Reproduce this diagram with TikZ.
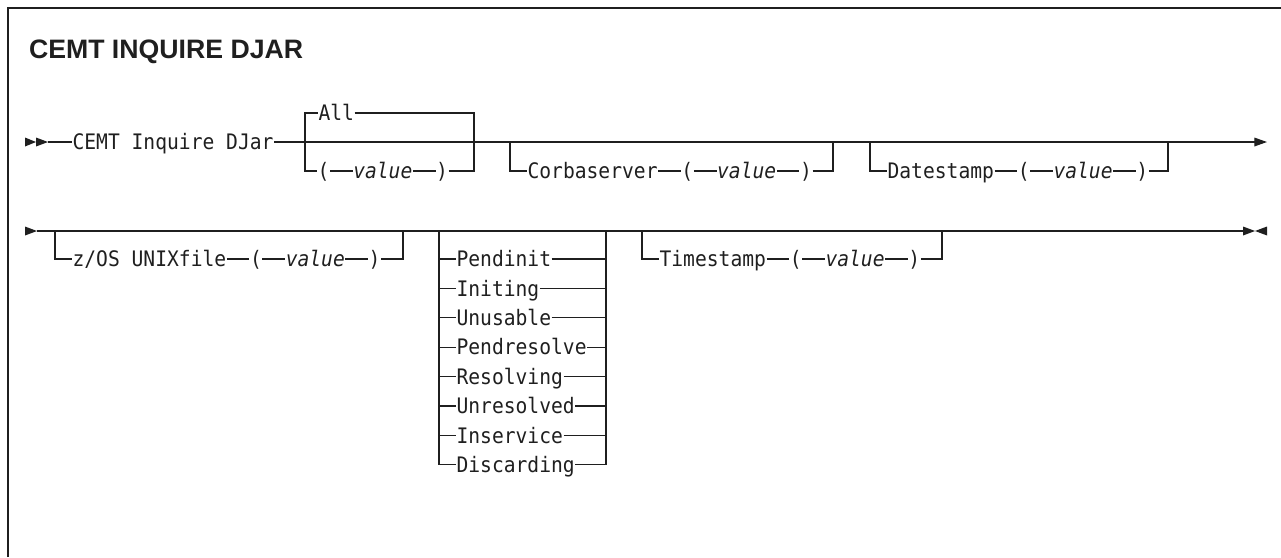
\documentclass[tikz,border=0pt]{standalone}
\usepackage{fontspec}
\setmainfont{Liberation Sans}
\newfontfamily\synfont[FakeStretch=0.92]{DejaVu Sans Mono}
\usetikzlibrary{positioning,arrows.meta}
\begin{document}
\begin{tikzpicture}[x=0.75pt, y=-0.75pt, line width=0.9pt, color=black!88,
  kw/.style={font=\synfont\fontsize{16}{18}\selectfont, inner sep=0pt,
    text height=11.6pt, text depth=0pt},
  var/.style={kw, font=\synfont\itshape\fontsize{16}{18}\selectfont},
  node distance=17pt]
\useasboundingbox (0,0) rectangle (1281,557);
\draw[line width=1.5pt] (8,557) -- (8,8) -- (1281,8);
\node[anchor=base west, font=\bfseries\fontsize{20}{24}\selectfont] (title) at (24,58) {CEMT INQUIRE DJAR};

% first line
\fill (25,137.5) -- (36,142) -- (25,146.5) -- cycle;
\fill (36,137.5) -- (48,142) -- (36,146.5) -- cycle;
\coordinate (r1start) at (48,142);
\coordinate (r1end) at (1267,142);
\node[kw, anchor=west] (cemt) at (72,142) {CEMT Inquire DJar};
\draw (r1start) -- (cemt);
\draw[-{Triangle[length=9.5pt, width=6.5pt]}] (cemt) -- (r1end);

\coordinate (b1l) at (305,142);
\coordinate (b1r) at (474,142);
\node[kw, anchor=west] (all) at (318,113) {All};
\node[kw, anchor=west] (lp1) at (317,171) {(};
\node[var, right=of lp1] (v1) {value};
\node[kw, right=of v1] (rp1) {)};
\draw (b1l) |- (all) -| (b1r);
\draw (b1l) |- (lp1) -- (v1) -- (rp1) -| (b1r);

\coordinate (b2l) at (510,142);
\coordinate (b2r) at (833,142);
\node[kw, anchor=west] (corba) at (527,171) {Corbaserver};
\node[kw, right=of corba] (lp2) {(};
\node[var, right=of lp2] (v2) {value};
\node[kw, right=of v2] (rp2) {)};
\draw (b2l) |- (corba) -- (lp2) -- (v2) -- (rp2) -| (b2r);

\coordinate (b3l) at (870,142);
\coordinate (b3r) at (1168,142);
\node[kw, anchor=west] (date) at (887,171) {Datestamp};
\node[kw, right=of date] (lp3) {(};
\node[var, right=of lp3] (v3) {value};
\node[kw, right=of v3] (rp3) {)};
\draw (b3l) |- (date) -- (lp3) -- (v3) -- (rp3) -| (b3r);

% second line
\fill (25,226.5) -- (37,231) -- (25,235.5) -- cycle;
\coordinate (r2start) at (37,231);
\coordinate (r2end) at (1243,231);
\draw (r2start) -- (r2end);
\fill (1243,226.5) -- (1255,231) -- (1243,235.5) -- cycle;
\fill (1267,226.5) -- (1255,231) -- (1267,235.5) -- cycle;

\coordinate (b4l) at (55,231);
\coordinate (b4r) at (403,231);
\node[kw, anchor=west] (zos) at (72,259) {z/OS UNIXfile};
\node[kw, right=of zos] (lp4) {(};
\node[var, right=of lp4] (v4) {value};
\node[kw, right=of v4] (rp4) {)};
\draw (b4l) |- (zos) -- (lp4) -- (v4) -- (rp4) -| (b4r);

\coordinate (sl) at (439,231);
\coordinate (sr) at (606,231);
\foreach \s [count=\i] in {Pendinit,Initing,Unusable,Pendresolve,Resolving,Unresolved,Inservice,Discarding}{
  \node[kw, anchor=west] (st\i) at (456,{229.6+29.4*\i}) {\s};
  \draw (sl) |- (st\i) -| (sr);
}

\coordinate (b5l) at (642,231);
\coordinate (b5r) at (942,231);
\node[kw, anchor=west] (ts) at (659,259) {Timestamp};
\node[kw, right=of ts] (lp5) {(};
\node[var, right=of lp5] (v5) {value};
\node[kw, right=of v5] (rp5) {)};
\draw (b5l) |- (ts) -- (lp5) -- (v5) -- (rp5) -| (b5r);
\end{tikzpicture}
\end{document}
